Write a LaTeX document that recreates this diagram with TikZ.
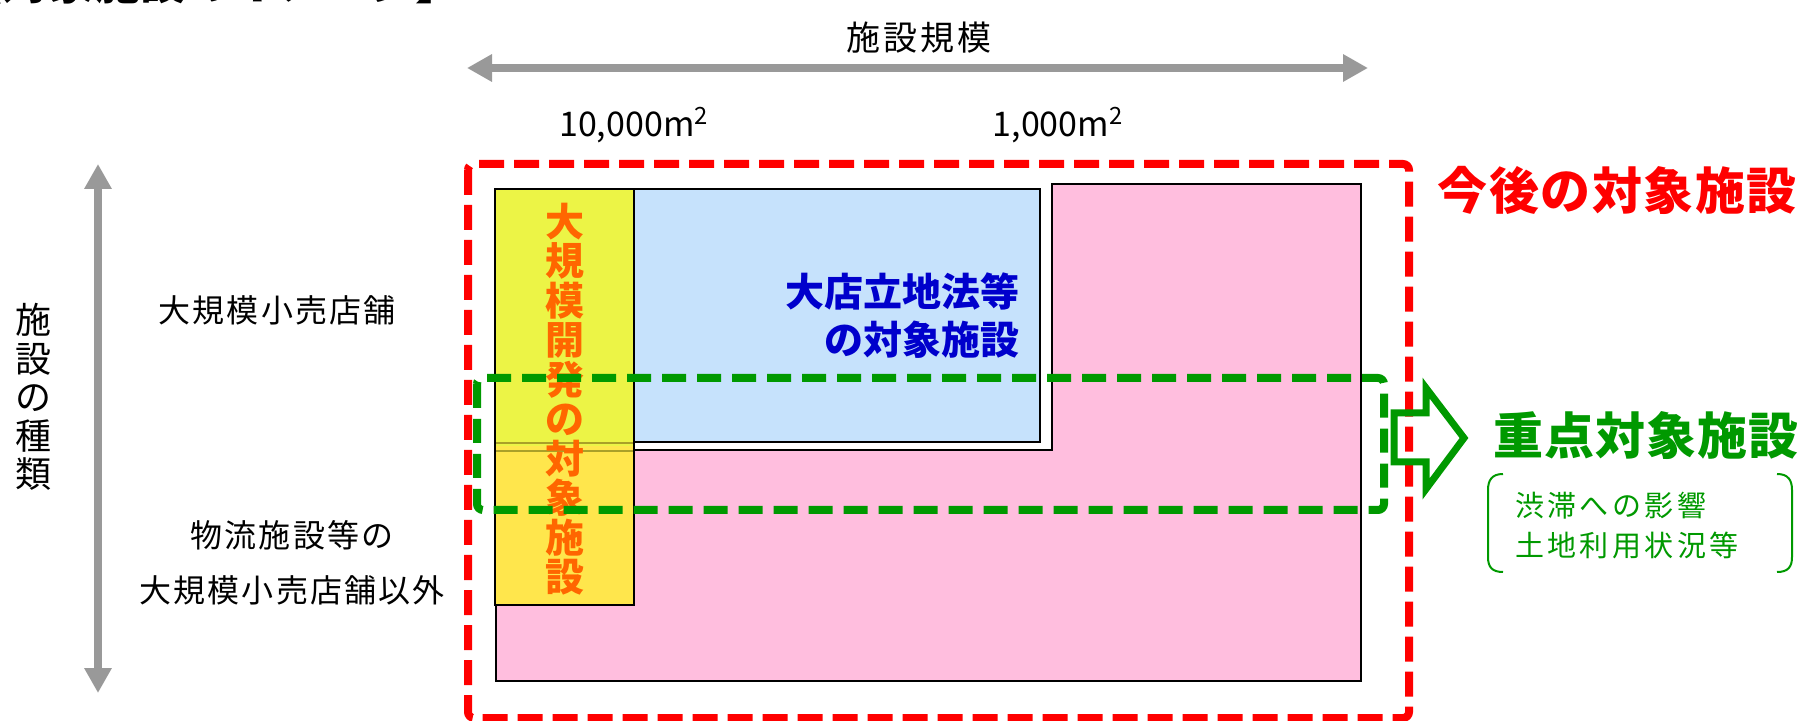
\documentclass[tikz,border=0pt]{standalone}
\usepackage{fontspec}
\setmainfont{Noto Sans CJK JP}
\usetikzlibrary{arrows.meta}
\definecolor{redline}{RGB}{255,0,0}
\definecolor{greenline}{RGB}{0,153,0}
\definecolor{bluetext}{RGB}{0,0,204}
\definecolor{orangetext}{RGB}{255,102,0}
\definecolor{pinkfill}{RGB}{255,190,222}
\definecolor{bluefill}{RGB}{198,226,252}
\definecolor{yellowtop}{RGB}{236,244,70}
\definecolor{yellowbot}{RGB}{255,230,76}
\definecolor{grayarrow}{RGB}{153,153,153}
\definecolor{seamline}{RGB}{170,160,40}
\newcommand{\fsz}[2]{\fontsize{#1}{#2}\selectfont}
\begin{document}
\begin{tikzpicture}[x=0.5pt,y=-0.5pt,
  every node/.style={inner sep=0pt,outer sep=0pt},
  axisarrow/.style={draw=grayarrow,line width=4pt,
    {Triangle[width=13pt,length=12.5pt]}-{Triangle[width=13pt,length=12.5pt]}},
  boxline/.style={draw=black,line width=1.2pt},
  reddash/.style={draw=redline,line width=4pt,dash pattern=on 12.5pt off 5pt,rounded corners=3pt},
  greendash/.style={draw=greenline,line width=4pt,dash pattern=on 12pt off 5.5pt,rounded corners=3pt},
  plainlabel/.style={text=black,font={\fsz{16}{27.5}\addfontfeatures{LetterSpace=7}},align=center},
  bigred/.style={text=redline,font={\bfseries\fsz{25}{25}\addfontfeatures{LetterSpace=3}}},
  biggreen/.style={text=greenline,font={\bfseries\fsz{25}{25}\addfontfeatures{LetterSpace=2}}},
  smallgreen/.style={text=greenline,font={\fsz{14.5}{20}\addfontfeatures{LetterSpace=12}},align=left},
  paren/.style={draw=greenline,line width=1pt}
]
\useasboundingbox (0,0) rectangle (1805,721);
\fill[white] (0,0) rectangle (1805,721);

% title (cut off at top, as in the reference)
\node[anchor=base east,font={\bfseries\fsz{23}{23}}] (title) at (462,0) {【対象施設のイメージ】};

% axes
\node[font={\fsz{17}{17}\addfontfeatures{LetterSpace=8}}] (scale) at (919,38) {施設規模};
\coordinate (hL) at (467,68);
\coordinate (hR) at (1368,68);
\draw[axisarrow] (hL) -- (hR);
\node[font=\fsz{17}{17}] (m10000) at (634,125) {10,000m\textsuperscript{2}};
\node[font=\fsz{17}{17}] (m1000) at (1058,125) {1,000m\textsuperscript{2}};

\coordinate (vT) at (98,164);
\coordinate (vB) at (98,693);
\draw[axisarrow] (vT) -- (vB);
\node[font=\fsz{18}{19.3},align=center] (kind) at (34,397) {施\\設\\の\\種\\類};

\node[plainlabel] (retail) at (277,310) {大規模小売店舗};
\node[plainlabel] (other) at (292,563) {物流施設等の\\大規模小売店舗以外};

% areas
\path[fill=pinkfill,boxline] (1052,184) -- (1361,184) -- (1361,681) -- (496,681) -- (496,450) -- (1052,450) -- cycle;
\path[fill=bluefill,boxline] (495,189) rectangle (1040,442);
\fill[yellowtop] (495,189) rectangle (634,446);
\fill[yellowbot] (495,446) rectangle (634,605);
\draw[seamline,line width=0.6pt] (496,443) -- (634,443) (496,451) -- (634,451);
\draw[boxline] (495,189) rectangle (634,605);

\node[text=orangetext,font={\bfseries\fsz{19.5}{19.75}},align=center] (dev) at (565,399)
  {大\\規\\模\\開\\発\\の\\対\\象\\施\\設};
\node[text=bluetext,font={\bfseries\fsz{19.5}{24}},align=right,anchor=east] (daiten) at (1019,316)
  {大店立地法等\\の対象施設};

% dashed frames
\draw[greendash] (477,378) rectangle (1384,510);
\draw[reddash] (468,164) rectangle (1409,718);

\node[bigred] (future) at (1617,190) {今後の対象施設};

% hollow arrow
\draw[draw=greenline,line width=3.5pt,line join=miter]
  (1394,413) -- (1426,413) -- (1426,388) -- (1464,438) -- (1426,489) -- (1426,462) -- (1394,462) -- cycle;

\node[biggreen] (focus) at (1646,436) {重点対象施設};
\node[smallgreen,anchor=west] (note) at (1515,526) {渋滞への影響\\土地利用状況等};
\draw[paren] (1503,474) .. controls (1492,474) and (1488,480) .. (1488,490) -- (1488,557)
  .. controls (1488,567) and (1492,572) .. (1503,572);
\draw[paren] (1777,474) .. controls (1788,474) and (1792,480) .. (1792,490) -- (1792,557)
  .. controls (1792,567) and (1788,572) .. (1777,572);
\end{tikzpicture}
\end{document}
